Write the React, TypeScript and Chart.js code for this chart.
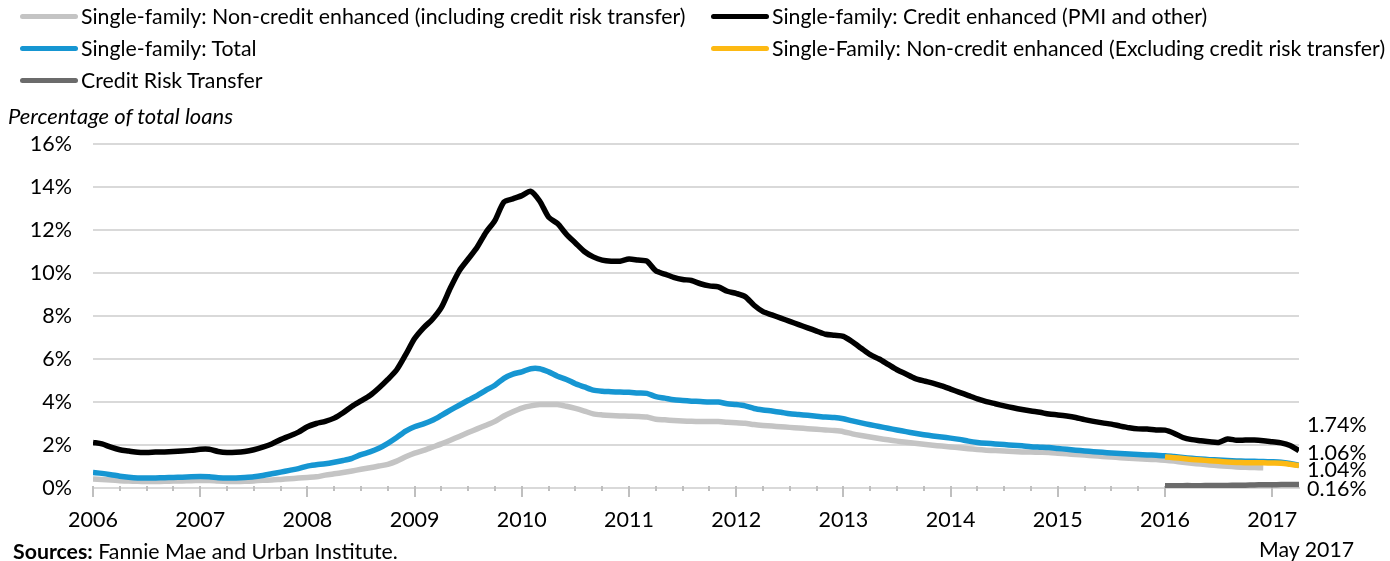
import React, { useEffect, useRef } from 'react';
import { Chart, registerables } from 'chart.js';

Chart.register(...registerables);

// Monthly observations, Jan 2006 = index 0
const START_YEAR = 2006;
const SUBSET_START = 120; // Jan 2016, first month of the split series

const creditEnhanced = [
  2.12, 2.05, 1.9, 1.78, 1.72, 1.66, 1.65, 1.67, 1.68, 1.7,
  1.72, 1.75, 1.8, 1.8, 1.7, 1.65, 1.66, 1.7, 1.78, 1.9,
  2.05, 2.25, 2.42, 2.6, 2.85, 3.0, 3.1, 3.25, 3.5, 3.8,
  4.05, 4.3, 4.65, 5.05, 5.5, 6.2, 6.95, 7.45, 7.85, 8.4,
  9.3, 10.1, 10.65, 11.2, 11.9, 12.45, 13.3, 13.45, 13.6, 13.8,
  13.35, 12.6, 12.3, 11.8, 11.4, 11.0, 10.75, 10.6, 10.55, 10.55,
  10.65, 10.6, 10.55, 10.1, 9.95, 9.8, 9.7, 9.65, 9.5, 9.4,
  9.35, 9.15, 9.05, 8.9, 8.5, 8.2, 8.05, 7.9, 7.75, 7.6,
  7.45, 7.3, 7.15, 7.1, 7.05, 6.8, 6.5, 6.2, 6.0, 5.75,
  5.5, 5.3, 5.1, 4.98, 4.88, 4.75, 4.6, 4.45, 4.3, 4.15,
  4.02, 3.92, 3.82, 3.73, 3.65, 3.58, 3.52, 3.44, 3.4, 3.35,
  3.28, 3.18, 3.1, 3.03, 2.97, 2.88, 2.8, 2.75, 2.74, 2.7,
  2.69, 2.55, 2.35, 2.25, 2.2, 2.15, 2.12, 2.28, 2.22, 2.23,
  2.23, 2.2, 2.15, 2.1, 1.98, 1.74,
];

const singleFamilyTotal = [
  0.72, 0.68, 0.62, 0.55, 0.5, 0.47, 0.47, 0.47, 0.48, 0.49,
  0.5, 0.52, 0.53, 0.52, 0.48, 0.46, 0.47, 0.49, 0.52, 0.58,
  0.66, 0.74, 0.82, 0.9, 1.02, 1.08, 1.13, 1.2, 1.28, 1.38,
  1.55, 1.68, 1.85, 2.08, 2.35, 2.65, 2.85, 2.98, 3.15, 3.38,
  3.62, 3.85, 4.08, 4.3, 4.55, 4.78, 5.1, 5.3, 5.4, 5.55,
  5.55, 5.4, 5.2, 5.05, 4.85, 4.7, 4.55, 4.5, 4.48, 4.46,
  4.45, 4.42, 4.4, 4.25, 4.18, 4.1, 4.07, 4.04, 4.02, 4.0,
  4.0, 3.92, 3.88, 3.82, 3.7, 3.63, 3.58, 3.52, 3.45, 3.42,
  3.38, 3.34, 3.3, 3.28, 3.22, 3.12, 3.03, 2.94, 2.86, 2.78,
  2.7, 2.62, 2.55, 2.48, 2.42, 2.37, 2.32, 2.26, 2.18, 2.12,
  2.08, 2.05, 2.02, 1.99, 1.96, 1.92, 1.9, 1.88, 1.84, 1.8,
  1.76, 1.72, 1.69, 1.66, 1.63, 1.6, 1.58, 1.56, 1.54, 1.52,
  1.5, 1.46, 1.42, 1.38, 1.35, 1.32, 1.3, 1.28, 1.26, 1.25,
  1.24, 1.23, 1.22, 1.2, 1.14, 1.06,
];

const nonCreditInclCRT = [
  0.42, 0.4, 0.37, 0.34, 0.32, 0.31, 0.3, 0.3, 0.31, 0.32,
  0.33, 0.34, 0.35, 0.35, 0.32, 0.3, 0.3, 0.31, 0.33, 0.36,
  0.37, 0.4, 0.43, 0.46, 0.49, 0.52, 0.6, 0.66, 0.72, 0.79,
  0.87, 0.94, 1.02, 1.1, 1.25, 1.45, 1.62, 1.75, 1.9, 2.05,
  2.22, 2.4, 2.58, 2.75, 2.92, 3.1, 3.35, 3.55, 3.72, 3.82,
  3.88, 3.88, 3.88, 3.8, 3.7, 3.58, 3.45, 3.4, 3.37, 3.35,
  3.34, 3.33, 3.3, 3.2, 3.17, 3.14, 3.12, 3.1, 3.09, 3.09,
  3.09, 3.06, 3.04, 3.01, 2.95, 2.91, 2.88, 2.85, 2.82, 2.79,
  2.76, 2.73, 2.7, 2.67, 2.62, 2.52, 2.44, 2.37, 2.3, 2.24,
  2.18, 2.13, 2.08, 2.03, 1.99, 1.95, 1.91, 1.87, 1.83, 1.79,
  1.76, 1.74, 1.72, 1.7, 1.68, 1.67, 1.66, 1.65, 1.62, 1.59,
  1.56, 1.53, 1.5, 1.47, 1.44, 1.41, 1.38, 1.36, 1.34, 1.32,
  1.29, 1.25, 1.2, 1.15, 1.11, 1.07, 1.04, 1.01, 0.98, 0.96,
  0.95, 0.94,
];

// From Jan 2016
const nonCreditExclCRT = [
  1.44, 1.41, 1.37, 1.33, 1.3, 1.27, 1.24, 1.21, 1.19, 1.18,
  1.17, 1.17, 1.16, 1.15, 1.1, 1.04,
];

const creditRiskTransfer = [
  0.1, 0.1, 0.11, 0.11, 0.11, 0.12, 0.12, 0.12, 0.13, 0.13,
  0.14, 0.15, 0.15, 0.16, 0.16, 0.16,
];

const yTickValues = [0, 2, 4, 6, 8, 10, 12, 14, 16];
const yearTicks = [2006, 2007, 2008, 2009, 2010, 2011, 2012, 2013, 2014, 2015, 2016, 2017];
const endLabels = ['1.74%', '1.06%', '1.04%', '0.16%'];

const LABEL_INCL = 'Single-family: Non-credit enhanced (including credit risk transfer)';
const LABEL_CE = 'Single-family: Credit enhanced (PMI and other)';
const LABEL_TOTAL = 'Single-family: Total';
const LABEL_EXCL = 'Single-Family: Non-credit enhanced (Excluding credit risk transfer)';
const LABEL_CRT = 'Credit Risk Transfer';

const COLORS = {
  incl: '#c4c4c4',
  ce: '#000000',
  total: '#1696d2',
  excl: '#fdb913',
  crt: '#6b6b6b',
};

const toPoints = (vals: number[], offset: number) =>
  vals.map((v, i) => ({ x: START_YEAR + (i + offset) / 12, y: v }));

const FONT = 'Lato';
const AXIS_FONT_SIZE = 21.5;

const xTickMarksPlugin = {
  id: 'xTickMarks',
  beforeDatasetsDraw(chart: any) {
    const { ctx, chartArea, scales } = chart;
    const xs = scales.x;
    const base = chartArea.bottom;
    ctx.save();
    ctx.strokeStyle = '#bfbfbf';
    ctx.lineWidth = 2;
    for (let q = 0; q <= 44; q++) {
      const isYear = q % 4 === 0;
      // minor (quarter) marks are shown only before 2016 in the source
      if (!isYear && q > 40) continue;
      const x = Math.round(xs.getPixelForValue(START_YEAR + q / 4));
      ctx.beginPath();
      ctx.moveTo(x, base - 2);
      ctx.lineTo(x, base + (isYear ? 9 : 3));
      ctx.stroke();
    }
    ctx.restore();
  },
};

const endLabelPlugin = {
  id: 'endLabels',
  afterDraw(chart: any) {
    const { ctx, chartArea } = chart;
    const offsetsY = [425, 453, 470, 489];
    ctx.save();
    ctx.font = `${AXIS_FONT_SIZE}px ${FONT}`;
    ctx.fillStyle = '#000';
    ctx.textAlign = 'left';
    ctx.textBaseline = 'middle';
    endLabels.forEach((t, i) => {
      ctx.fillText(t, chartArea.right + 8, offsetsY[i]);
    });
    ctx.restore();
  },
};

const legendItems = [
  { label: LABEL_INCL, color: COLORS.incl, left: 20, top: 16 },
  { label: LABEL_CE, color: COLORS.ce, left: 711, top: 16 },
  { label: LABEL_TOTAL, color: COLORS.total, left: 20, top: 48 },
  { label: LABEL_EXCL, color: COLORS.excl, left: 711, top: 48 },
  { label: LABEL_CRT, color: COLORS.crt, left: 20, top: 80 },
];

export default function App() {
  const canvasRef = useRef<HTMLCanvasElement | null>(null);

  useEffect(() => {
    const canvas = canvasRef.current;
    if (!canvas) return;
    const chart = new Chart(canvas, {
      type: 'line',
      data: {
        datasets: [
          { label: LABEL_EXCL, data: toPoints(nonCreditExclCRT, SUBSET_START), borderColor: COLORS.excl },
          { label: LABEL_TOTAL, data: toPoints(singleFamilyTotal, 0), borderColor: COLORS.total },
          { label: LABEL_INCL, data: toPoints(nonCreditInclCRT, 0), borderColor: COLORS.incl },
          { label: LABEL_CE, data: toPoints(creditEnhanced, 0), borderColor: COLORS.ce },
          { label: LABEL_CRT, data: toPoints(creditRiskTransfer, SUBSET_START), borderColor: COLORS.crt },
        ],
      },
      options: {
        responsive: false,
        animation: false,
        devicePixelRatio: 1,
        layout: { padding: { top: 144, right: 91, left: 0, bottom: 0 } },
        elements: {
          point: { radius: 0 },
          line: { borderWidth: 5.5, tension: 0.25, borderCapStyle: 'butt', borderJoinStyle: 'round', fill: false },
        },
        plugins: { legend: { display: false }, tooltip: { enabled: false } },
        scales: {
          x: {
            type: 'linear',
            min: START_YEAR,
            max: START_YEAR + 135 / 12,
            afterBuildTicks: (s: any) => {
              s.ticks = yearTicks.map((v) => ({ value: v }));
            },
            ticks: {
              callback: (v: any) => String(v),
              font: { size: AXIS_FONT_SIZE, family: FONT },
              color: '#000',
              padding: 19,
              maxRotation: 0,
              autoSkip: false,
            },
            grid: { display: false, drawTicks: false },
            border: { display: true, color: '#d9d9d9', width: 2 },
            afterFit: (s: any) => {
              s.height = 73;
            },
          },
          y: {
            type: 'linear',
            min: 0,
            max: 16,
            afterBuildTicks: (s: any) => {
              s.ticks = yTickValues.map((v) => ({ value: v }));
            },
            ticks: {
              callback: (v: any) => `${v}%`,
              font: { size: AXIS_FONT_SIZE, family: FONT },
              color: '#000',
              padding: 21,
            },
            grid: { color: '#d9d9d9', lineWidth: 2, drawTicks: false },
            border: { display: false },
            afterFit: (s: any) => {
              s.width = 93;
            },
          },
        },
      } as any,
      plugins: [xTickMarksPlugin, endLabelPlugin],
    });
    return () => chart.destroy();
  }, []);

  const textStyle: React.CSSProperties = {
    position: 'absolute',
    fontSize: 21.3,
    lineHeight: '24px',
    color: '#000',
    whiteSpace: 'nowrap',
  };

  return (
    <div
      style={{
        position: 'absolute',
        left: 0,
        top: 0,
        width: 1390,
        height: 561,
        background: '#fff',
        fontFamily: `${FONT}, sans-serif`,
        overflow: 'hidden',
      }}
    >
      <canvas
        ref={canvasRef}
        width={1390}
        height={561}
        style={{ position: 'absolute', left: 0, top: 0, width: 1390, height: 561 }}
      />
      {legendItems.map((it) => (
        <React.Fragment key={it.label}>
          <div
            style={{
              position: 'absolute',
              left: it.left,
              top: it.top - 2.5,
              width: 58,
              height: 5,
              borderRadius: 3,
              background: it.color,
            }}
          />
          <div style={{ ...textStyle, left: it.left + 61, top: it.top - 12 }}>{it.label}</div>
        </React.Fragment>
      ))}
      <div style={{ ...textStyle, left: 8, top: 104, fontSize: 22, fontStyle: 'italic' }}>
        Percentage of total loans
      </div>
      <div style={{ ...textStyle, left: 13, top: 539 }}>
        <b>Sources:</b> Fannie Mae and Urban Institute.
      </div>
      <div style={{ ...textStyle, left: 1259, top: 537 }}>May 2017</div>
    </div>
  );
}
